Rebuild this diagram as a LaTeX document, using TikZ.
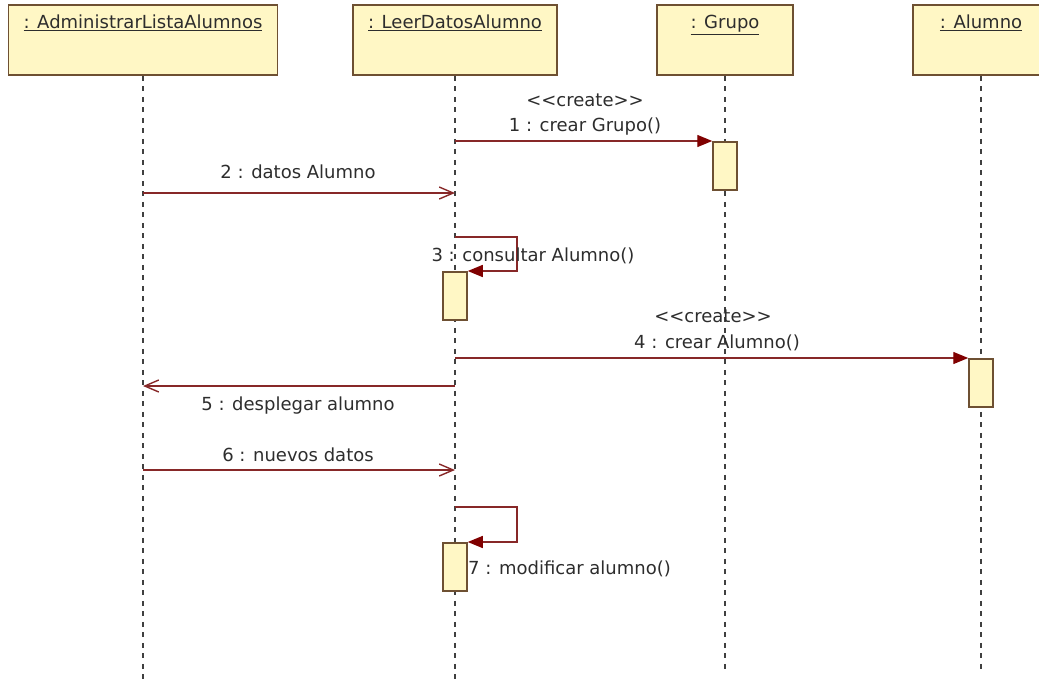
\documentclass[tikz,border=0pt]{standalone}
\usepackage{fontspec}
\setmainfont{DejaVu Sans}
\usetikzlibrary{arrows.meta}
\definecolor{objfill}{RGB}{255,247,197}
\definecolor{objline}{RGB}{110,80,50}
\definecolor{msgline}{RGB}{135,40,40}
\definecolor{msgtip}{RGB}{128,0,0}
\definecolor{txtgray}{RGB}{45,45,45}
\begin{document}
\begin{tikzpicture}[x=1pt,y=-1pt,
    obj/.style={draw=objline,line width=1.7pt,fill=objfill,minimum height=70pt,inner sep=0pt},
    objname/.style={anchor=north,inner sep=0pt,text=txtgray},
    act/.style={draw=objline,line width=1.5pt,fill=objfill,minimum width=24pt,minimum height=48pt,inner sep=0pt,anchor=north},
    life/.style={draw=black!75,line width=1.6pt,dash pattern=on 5pt off 5.5pt},
    call/.style={draw=msgline,line width=1.4pt,-{Triangle[length=15pt,width=12pt,color=msgtip]}},
    async/.style={draw=msgline,line width=1.4pt,-{Straight Barb[length=14pt,width=12pt]}},
    lbl/.style={text=txtgray,inner sep=1pt}]
    \fontsize{18}{20}\selectfont
    \useasboundingbox (0,0) rectangle (1039,683);
    % objetos
    \node[obj,minimum width=269pt] (adm)    at (143,40) {};
    \node[obj,minimum width=204pt] (leer)   at (455,40) {};
    \node[obj,minimum width=136pt] (grupo)  at (725,40) {};
    \node[obj,minimum width=136pt] (alumno) at (981,40) {};
    \node[objname] (admname)    at (143,15) {\underline{: AdministrarListaAlumnos}};
    \node[objname] (leername)   at (455,15) {\underline{: LeerDatosAlumno}};
    \node[objname] (gruponame)  at (725,15) {\underline{: Grupo}};
    \node[objname] (alumnoname) at (981,15) {\underline{: Alumno}};
    % lineas de vida
    \coordinate (admfin)    at (143,683);
    \coordinate (leerfin)   at (455,683);
    \coordinate (grupofin)  at (725,673);
    \coordinate (alumnofin) at (981,673);
    \draw[life] (adm.south)    -- (admfin);
    \draw[life] (leer.south)   -- (leerfin);
    \draw[life] (grupo.south)  -- (grupofin);
    \draw[life] (alumno.south) -- (alumnofin);
    % activaciones
    \node[act] (actgrupo)  at (725,141) {};
    \node[act] (actleer3)  at (455,271) {};
    \node[act] (actalumno) at (981,358) {};
    \node[act] (actleer7)  at (455,542) {};
    % mensajes
    \coordinate (m1)  at (455,141);
    \coordinate (m2a) at (143,193);  \coordinate (m2b) at (455,193);
    \coordinate (m3)  at (455,237);
    \coordinate (m4)  at (455,358);
    \coordinate (m5a) at (455,386);  \coordinate (m5b) at (143,386);
    \coordinate (m6a) at (143,470);  \coordinate (m6b) at (455,470);
    \coordinate (m7)  at (455,507);
    \draw[call]  (m1)  -- (actgrupo.north west);
    \draw[async] (m2a) -- (m2b);
    \draw[call]  (m3)  -- ++(62,0) |- (actleer3.north east);
    \draw[call]  (m4)  -- (actalumno.north west);
    \draw[async] (m5a) -- (m5b);
    \draw[async] (m6a) -- (m6b);
    \draw[call]  (m7)  -- ++(62,0) |- (actleer7.north east);
    % etiquetas
    \node[lbl] (st1) at (585,100) {<{}<create>{}>};
    \node[lbl] (t1)  at (585,127) {1 : crear Grupo()};
    \node[lbl] (t2)  at (298,172) {2 : datos Alumno};
    \node[lbl] (t3)  at (533,256) {3 : consultar Alumno()};
    \node[lbl] (st4) at (713,316) {<{}<create>{}>};
    \node[lbl] (t4)  at (717,343) {4 : crear Alumno()};
    \node[lbl] (t5)  at (298,406) {5 : desplegar alumno};
    \node[lbl] (t6)  at (298,455) {6 : nuevos datos};
    \node[lbl,anchor=west] (t7) at (467,569) {7 : modificar alumno()};
\end{tikzpicture}
\end{document}
